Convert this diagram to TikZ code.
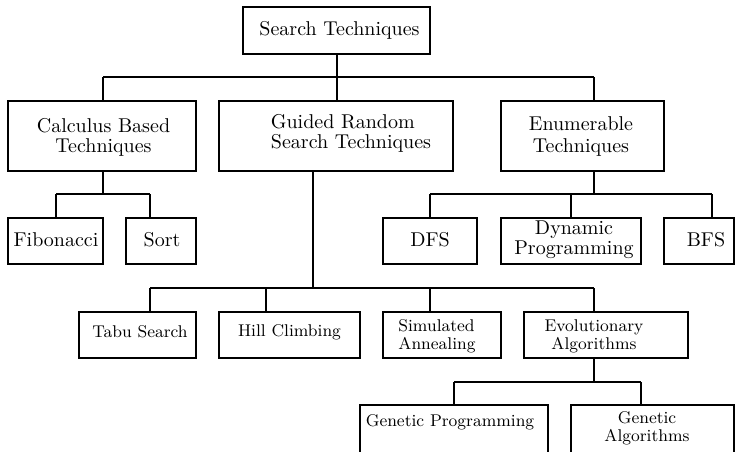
\documentclass[tikz,border=0pt]{standalone}
\begin{document}
\begin{tikzpicture}[x=0.5pt,y=-0.5pt]
\tikzset{
  box/.style={draw,line width=0.8pt,rectangle,inner sep=0pt},
  sz/.style 2 args={minimum width={#1*0.5pt},minimum height={#2*0.5pt}},
  conn/.style={line width=0.8pt},
  lbl/.style={inner sep=0pt,align=center,font=\fontsize{10}{10}\selectfont},
  lbls/.style={inner sep=0pt,align=center,font=\fontsize{8.5}{9}\selectfont}
}
\useasboundingbox (0,0) rectangle (735,451);
\clip (0,0) rectangle (735,451);

% boxes
\node[box,sz={187}{47}] (search) at (336.5,30.5) {};
\node[box,sz={188}{70}] (calc) at (102,136) {};
\node[box,sz={234}{70}] (guided) at (336,136) {};
\node[box,sz={163}{70}] (enum) at (582.5,136) {};
\node[box,sz={95}{46}] (fib) at (55.5,241) {};
\node[box,sz={70}{46}] (sort) at (161,241) {};
\node[box,sz={94}{46}] (dfs) at (430,241) {};
\node[box,sz={140}{46}] (dyn) at (571,241) {};
\node[box,sz={70}{46}] (bfs) at (699,241) {};
\node[box,sz={117}{46}] (tabu) at (137.5,335) {};
\node[box,sz={141}{46}] (hill) at (289.5,335) {};
\node[box,sz={118}{46}] (sim) at (442,335) {};
\node[box,sz={164}{46}] (evol) at (606,335) {};
\node[box,sz={188}{90}] (gp) at (454,450) {};
\node[box,sz={163}{90}] (ga) at (652.5,450) {};

% texts
\node[lbl] (searchT) at (339.5,30) {Search Techniques};
\node[lbl] (calcT) at (103.5,137) {Calculus Based\\Techniques};
\node[lbl,align=left] (guidedT) at (351,133) {Guided Random\\Search Techniques};
\node[lbl,font=\fontsize{10}{11}\selectfont] (enumT) at (581,136) {Enumerable\\Techniques};
\node[lbl] (fibT) at (56,240) {Fibonacci};
\node[lbl] (sortT) at (162,240) {Sort};
\node[lbl] (dfsT) at (430,240) {DFS};
\node[lbl] (dynT) at (574,240) {Dynamic\\Programming};
\node[lbl] (bfsT) at (706,240) {BFS};
\node[lbls] (tabuT) at (140,332) {Tabu Search};
\node[lbls] (hillT) at (289.5,332) {Hill Climbing};
\node[lbls,align=left] (simT) at (437,336) {Simulated\\Annealing};
\node[lbls] (evolT) at (594,336) {Evolutionary\\Algorithms};
\node[lbls] (gpT) at (450,422) {Genetic Programming};
\node[lbls] (gaT) at (647,428) {Genetic\\Algorithms};

% bus coordinates
\coordinate (t1) at (103,77);
\coordinate (t2) at (337,77);
\coordinate (t3) at (594,77);
\coordinate (c0) at (103,194);
\coordinate (c1) at (56,194);
\coordinate (c2) at (150,194);
\coordinate (e0) at (594,194);
\coordinate (e1) at (430,194);
\coordinate (e2) at (571,194);
\coordinate (e3) at (712,194);
\coordinate (g0) at (313,288);
\coordinate (g1) at (150,288);
\coordinate (g2) at (266,288);
\coordinate (g3) at (430,288);
\coordinate (g4) at (594,288);
\coordinate (v0) at (594,382);
\coordinate (v1) at (454,382);
\coordinate (v2) at (641,382);

% connectors
\draw[conn] (t2 |- search.south) -- (t2);
\draw[conn] (t1) -- (t3);
\draw[conn] (t1) -- (t1 |- calc.north);
\draw[conn] (t2) -- (t2 |- guided.north);
\draw[conn] (t3) -- (t3 |- enum.north);

\draw[conn] (c0 |- calc.south) -- (c0);
\draw[conn] (c1) -- (c2);
\draw[conn] (c1) -- (c1 |- fib.north);
\draw[conn] (c2) -- (c2 |- sort.north);

\draw[conn] (e0 |- enum.south) -- (e0);
\draw[conn] (e1) -- (e3);
\draw[conn] (e1) -- (e1 |- dfs.north);
\draw[conn] (e2) -- (e2 |- dyn.north);
\draw[conn] (e3) -- (e3 |- bfs.north);

\draw[conn] (g0 |- guided.south) -- (g0);
\draw[conn] (g1) -- (g4);
\draw[conn] (g1) -- (g1 |- tabu.north);
\draw[conn] (g2) -- (g2 |- hill.north);
\draw[conn] (g3) -- (g3 |- sim.north);
\draw[conn] (g4) -- (g4 |- evol.north);

\draw[conn] (v0 |- evol.south) -- (v0);
\draw[conn] (v1) -- (v2);
\draw[conn] (v1) -- (v1 |- gp.north);
\draw[conn] (v2) -- (v2 |- ga.north);
\end{tikzpicture}
\end{document}
